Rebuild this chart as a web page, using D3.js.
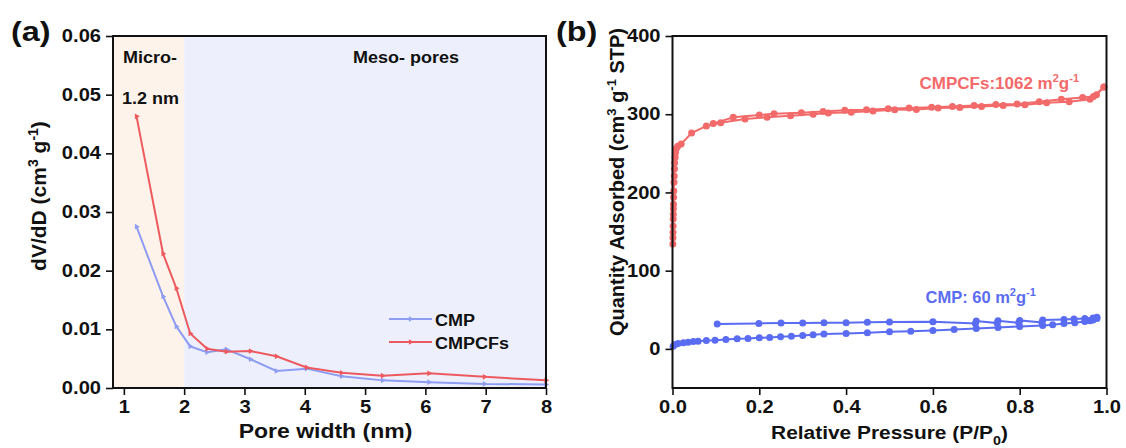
<!DOCTYPE html>
<html>
<head>
<meta charset="utf-8">
<script src="https://cdn.jsdelivr.net/npm/d3@7/dist/d3.min.js"></script>
<style>
  html, body { margin: 0; padding: 0; background: #fff; }
  svg { display: block; font-family: "Liberation Sans", Arial, sans-serif; font-weight: bold; }
</style>
</head>
<body>
<svg id="fig" width="1126" height="448"></svg>
<script>
// ---------- Panel (a): pore size distribution ----------
const poreWidth = [1.21, 1.65, 1.87, 2.10, 2.38, 2.70, 3.10, 3.53, 4.03, 4.61, 5.29, 6.06, 6.98, 8.00];
const cmpPSD    = [0.0275, 0.0156, 0.0105, 0.0071, 0.0061, 0.0066, 0.0049, 0.0029, 0.0033, 0.0020, 0.0013, 0.0010, 0.0007, 0.0006];
const cmpcfPSD  = [0.0463, 0.0229, 0.0170, 0.0093, 0.0067, 0.0062, 0.0063, 0.0054, 0.0035, 0.0026, 0.0021, 0.0025, 0.0019, 0.0013];
const psdXTicks = [1, 2, 3, 4, 5, 6, 7, 8];
const psdYTicks = [0, 0.01, 0.02, 0.03, 0.04, 0.05, 0.06];
const psdSeries = ["CMP", "CMPCFs"];

// ---------- Panel (b): N2 isotherms [P/P0, quantity] ----------
const cmpcfAds = [
  [0.0008,134],[0.0010,142],[0.0012,149],[0.0014,157],[0.0016,166],[0.0018,172],[0.0020,179],
  [0.0022,185],[0.0025,194],[0.0030,202],[0.0035,213],[0.0040,221],[0.0045,230],[0.0050,238],
  [0.0060,245],[0.0070,251],[0.0085,256],[0.012,259],[0.020,262],[0.044,276],[0.078,285],
  [0.111,289],[0.167,294],[0.218,296],[0.272,298],[0.324,300],[0.359,301.5],[0.412,302.6],
  [0.462,304],[0.512,305.6],[0.562,306],[0.612,307.8],[0.662,308.6],[0.712,310],[0.762,311],
  [0.812,312],[0.862,314.6],[0.914,316],[0.962,319],[0.977,325],[0.994,334.7]
];
const cmpcfDes = [
  [0.994,334.7],[0.970,322.7],[0.945,321.5],[0.896,319],[0.845,316],[0.794,313],[0.745,312.5],
  [0.695,311],[0.645,310],[0.597,309],[0.545,307.8],[0.497,307],[0.447,305.6],[0.397,305],
  [0.347,303.5],[0.297,302],[0.234,300.5],[0.200,299],[0.140,296],[0.094,288]
];
const cmpAds = [
  [0.0015,3.4],[0.006,5.5],[0.013,6.9],[0.025,7.7],[0.036,8.6],[0.048,9.4],[0.059,9.9],[0.078,10.7],
  [0.098,11.1],[0.123,12],[0.149,12.9],[0.174,13.3],[0.200,14.1],[0.224,14.6],[0.249,15.4],
  [0.274,16.3],[0.300,17.1],[0.324,18],[0.349,18.9],[0.400,19.7],[0.449,20.6],[0.500,21.9],
  [0.549,22.7],[0.600,23.6],[0.649,24.9],[0.700,26.1],[0.750,27.4],[0.800,28.7],[0.853,30],
  [0.876,30.9],[0.902,32.6],[0.927,33.4],[0.950,35.1],[0.962,36],[0.969,36.9],[0.978,39]
];
const cmpDes = [
  [0.978,40.3],[0.969,39.4],[0.950,39],[0.925,38.1],[0.902,37.7],[0.853,36.9],[0.851,33.8],
  [0.800,36.4],[0.798,33.4],[0.750,36],[0.748,33],[0.700,35.6],[0.698,32.6],[0.600,34.7],
  [0.500,34.3],[0.449,33.9],[0.400,33.4],[0.349,33.4],[0.300,33],[0.250,33],[0.199,32.6],[0.103,31.7]
];
const isoXTicks = [0, 0.2, 0.4, 0.6, 0.8, 1.0];
const isoYTicks = [0, 100, 200, 300, 400];

const RED_A = "#ec5a5f", BLUE_A = "#8e9cf2";
const RED_B = "#f36a6a", BLUE_B = "#5a6cf2";
const SX = 1.15; // horizontal widening of the axis type

const svg = d3.select("#fig");

function widen(sel, k) {
  sel.each(function () {
    const t = d3.select(this);
    const x = +t.attr("x") || 0;
    t.attr("transform", `translate(${x * (1 - k)},0) scale(${k},1)`);
  });
}

function frameAxes(g, x, y, xMaj, xMin, yMaj, yMin, xFmt, yFmt, w, h) {
  const gx = g.append("g").attr("transform", `translate(0,${h})`);
  gx.call(d3.axisBottom(x).tickValues(xMin).tickSize(4).tickFormat(""));
  gx.call(d3.axisBottom(x).tickValues(xMaj).tickSize(7).tickPadding(6).tickFormat(xFmt));
  const gy = g.append("g");
  gy.call(d3.axisLeft(y).tickValues(yMin).tickSize(4).tickFormat(""));
  gy.call(d3.axisLeft(y).tickValues(yMaj).tickSize(7).tickPadding(5).tickFormat(yFmt));
  g.selectAll(".domain").remove();
  g.selectAll(".tick line").attr("stroke", "#111").attr("stroke-width", 1.6);
  g.selectAll(".tick text").attr("font-size", 17.5).attr("font-weight", "bold")
    .attr("fill", "#111").attr("font-family", "Liberation Sans, Arial, sans-serif");
  widen(gx.selectAll(".tick text"), SX);
  widen(gy.selectAll(".tick text"), SX);
  g.append("rect").attr("width", w).attr("height", h)
    .attr("fill", "none").attr("stroke", "#111").attr("stroke-width", 2);
}

// ================= Panel (a) =================
{
  const L = 113, T = 36, W = 433, H = 352;
  const g = svg.append("g").attr("transform", `translate(${L},${T})`);
  const x = d3.scaleLinear().domain([0.82, 8]).range([0, W]);
  const y = d3.scaleLinear().domain([0, 0.06]).range([H, 0]);

  g.append("rect").attr("x", 0).attr("y", 0).attr("width", x(2)).attr("height", H).attr("fill", "#fdf3ea");
  g.append("rect").attr("x", x(2)).attr("y", 0).attr("width", W - x(2)).attr("height", H).attr("fill", "#edf0fc");

  const ann = g.append("g").attr("font-size", 17).attr("fill", "#111");
  ann.append("text").attr("x", 10).attr("y", 27).text("Micro-");
  ann.append("text").attr("x", 9).attr("y", 68).text("1.2 nm");
  ann.append("text").attr("x", 240).attr("y", 27).text("Meso- pores");
  widen(ann.selectAll("text"), 1.06);

  const line = d3.line().x(d => x(d[0])).y(d => y(d[1]));
  const tri = d3.symbol().type(d3.symbolTriangle).size(14);
  const sets = [
    { name: psdSeries[0], vals: cmpPSD, color: BLUE_A },
    { name: psdSeries[1], vals: cmpcfPSD, color: RED_A }
  ];
  sets.forEach(s => {
    const pts = poreWidth.map((p, i) => [p, s.vals[i]]);
    g.append("path").datum(pts).attr("d", line).attr("fill", "none")
      .attr("stroke", s.color).attr("stroke-width", 2);
    g.append("g").selectAll("path").data(pts).join("path")
      .attr("d", tri).attr("fill", s.color)
      .attr("transform", d => `translate(${x(d[0])},${y(d[1])}) rotate(90)`);
  });

  // legend
  const lg = g.append("g").attr("transform", `translate(${276},${283})`);
  sets.forEach((s, i) => {
    const row = lg.append("g").attr("transform", `translate(0,${i * 23})`);
    row.append("line").attr("x1", 0).attr("x2", 43).attr("stroke", s.color).attr("stroke-width", 2);
    row.append("path").attr("d", tri).attr("fill", s.color).attr("transform", "translate(21.5,0) rotate(90)");
    const t = row.append("text").attr("x", 46).attr("y", 6.5).attr("font-size", 17).attr("fill", "#111").text(s.name);
    widen(t, 1.06);
  });

  frameAxes(g, x, y, psdXTicks, d3.range(1.5, 8, 1), psdYTicks, d3.range(0.005, 0.06, 0.01),
    d3.format("d"), d3.format(".2f"), W, H);

  const xl = g.append("text").attr("x", W / 2 - 4).attr("y", 402).attr("text-anchor", "middle")
    .attr("font-size", 20).attr("fill", "#111").text("Pore width (nm)");
  widen(xl, SX);

  const yl = svg.append("text").attr("transform", "translate(46,196) rotate(-90)")
    .attr("text-anchor", "middle").attr("font-size", 21).attr("fill", "#111");
  yl.append("tspan").text("dV/dD (cm");
  yl.append("tspan").attr("dy", -8).attr("font-size", 14).text("3");
  yl.append("tspan").attr("dy", 8).text(" g");
  yl.append("tspan").attr("dy", -8).attr("font-size", 14).text("-1");
  yl.append("tspan").attr("dy", 8).text(")");

  const pa = svg.append("text").attr("x", 11).attr("y", 41).attr("font-size", 27).attr("fill", "#111").text("(a)");
  widen(pa, 1.2);
}

// ================= Panel (b) =================
{
  const L = 672.5, T = 36, W = 434, H = 352;
  const g = svg.append("g").attr("transform", `translate(${L},${T})`);
  const x = d3.scaleLinear().domain([0, 1]).range([0, W]);
  const y = d3.scaleLinear().domain([-50, 400]).range([H, 0]);
  const line = d3.line().x(d => x(d[0])).y(d => y(d[1]));

  const branches = [
    { pts: cmpcfAds, color: RED_B }, { pts: cmpcfDes, color: RED_B },
    { pts: cmpAds, color: BLUE_B }, { pts: cmpDes, color: BLUE_B }
  ];
  branches.forEach(b => {
    g.append("path").datum(b.pts).attr("d", line).attr("fill", "none")
      .attr("stroke", b.color).attr("stroke-width", 2);
  });
  branches.forEach(b => {
    g.append("g").selectAll("circle").data(b.pts).join("circle")
      .attr("cx", d => x(d[0])).attr("cy", d => y(d[1])).attr("r", 3.5).attr("fill", b.color);
  });

  const t1 = g.append("text").attr("x", 247).attr("y", 53).attr("font-size", 17).attr("fill", RED_B);
  t1.append("tspan").text("CMPCFs:1062 m");
  t1.append("tspan").attr("dy", -7).attr("font-size", 11).text("2");
  t1.append("tspan").attr("dy", 7).text("g");
  t1.append("tspan").attr("dy", -7).attr("font-size", 11).text("-1");

  const t2 = g.append("text").attr("x", 253).attr("y", 267).attr("font-size", 16.5).attr("fill", BLUE_B);
  t2.append("tspan").text("CMP: 60 m");
  t2.append("tspan").attr("dy", -7).attr("font-size", 11).text("2");
  t2.append("tspan").attr("dy", 7).text("g");
  t2.append("tspan").attr("dy", -7).attr("font-size", 11).text("-1");

  frameAxes(g, x, y, isoXTicks, d3.range(0.1, 1, 0.2), isoYTicks, [-50, 50, 150, 250, 350],
    d3.format(".1f"), d3.format("d"), W, H);

  const xl = g.append("text").attr("x", W / 2).attr("y", 403).attr("text-anchor", "middle")
    .attr("font-size", 19).attr("fill", "#111");
  xl.append("tspan").text("Relative Pressure (P/P");
  xl.append("tspan").attr("dy", 6).attr("font-size", 13).text("0");
  xl.append("tspan").attr("dy", -6).text(")");
  widen(xl, 1.1);

  const yl = svg.append("text").attr("transform", "translate(624,182) rotate(-90)")
    .attr("text-anchor", "middle").attr("font-size", 20).attr("fill", "#111");
  yl.append("tspan").text("Quantity Adsorbed (cm");
  yl.append("tspan").attr("dy", -8).attr("font-size", 13).text("3");
  yl.append("tspan").attr("dy", 8).text(" g");
  yl.append("tspan").attr("dy", -8).attr("font-size", 13).text("-1");
  yl.append("tspan").attr("dy", 8).text(" STP)");

  const pb = svg.append("text").attr("x", 556).attr("y", 41).attr("font-size", 27).attr("fill", "#111").text("(b)");
  widen(pb, 1.2);
}
</script>
</body>
</html>
